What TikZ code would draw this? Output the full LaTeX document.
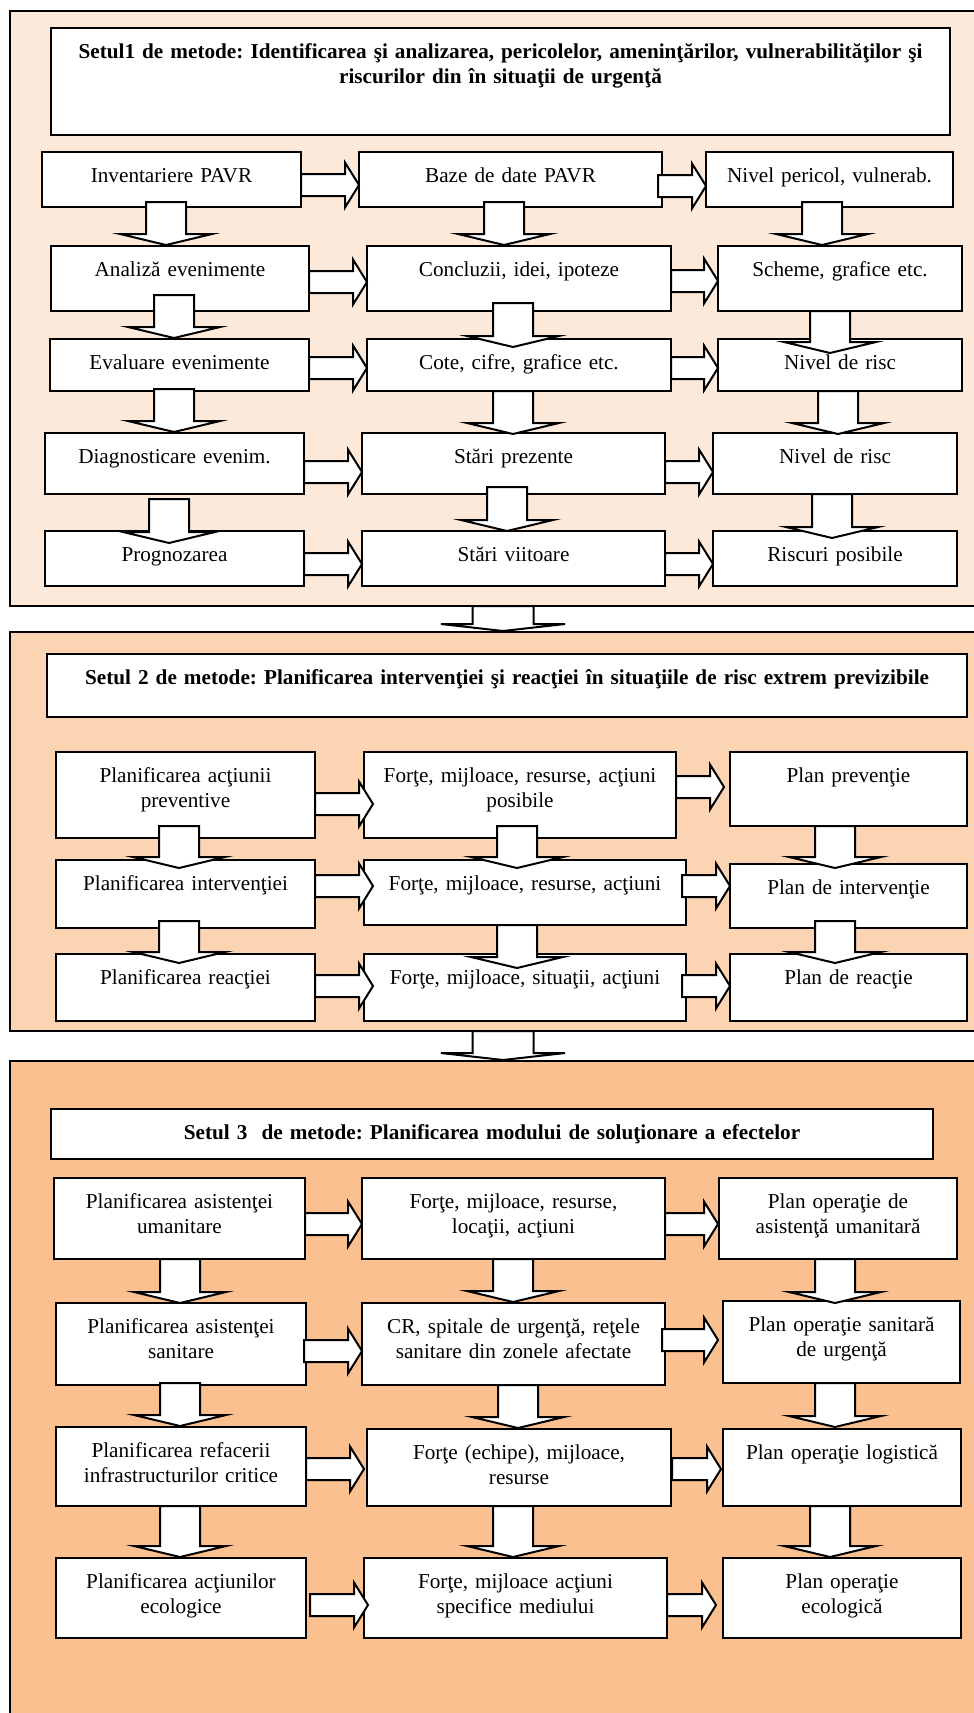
\documentclass[tikz,border=0pt]{standalone}
\usepackage{fontspec}
\setmainfont{Liberation Serif}
\usetikzlibrary{calc}
\frenchspacing
\definecolor{frA}{HTML}{FDE9D9}
\definecolor{frB}{HTML}{FBD4B4}
\definecolor{frC}{HTML}{FAC090}
\tikzset{
  boxst/.style={draw, fill=white, line width=1pt, inner sep=0pt, outer sep=0pt,
    anchor=north west, align=center, text height=15.25pt,
    font=\fontsize{10.6}{12.5}\selectfont\frenchspacing},
  frm/.style={draw, line width=1pt, inner sep=0pt, outer sep=0pt, anchor=north west},
  blk/.style={draw, fill=white, line width=1pt, line join=miter},
  harrow/.style={to path={let \p1=(\tikztostart), \p2=(\tikztotarget) in
      (\x1,\y1+5.5pt) -- (\x2-7pt,\y1+5.5pt) -- (\x2-7pt,\y1+11.25pt) -- (\x2,\y1)
      -- (\x2-7pt,\y1-11.25pt) -- (\x2-7pt,\y1-5.5pt) -- (\x1,\y1-5.5pt) -- cycle}},
  varrow/.style={to path={let \p1=(\tikztostart), \p2=(\tikztotarget) in
      (\x1-10pt,\y1) -- (\x1-10pt,\y2+5.5pt) -- (\x1-23pt,\y2+5.5pt) -- (\x1,\y2)
      -- (\x1+23pt,\y2+5.5pt) -- (\x1+10pt,\y2+5.5pt) -- (\x1+10pt,\y1) -- cycle}},
  farrow/.style={to path={let \p1=(\tikztostart), \p2=(\tikztotarget) in
      (\x1-15.25pt,\y1) -- (\x1-15.25pt,\y2+3.5pt) -- (\x1-31pt,\y2+3.5pt) -- (\x1,\y2)
      -- (\x1+31pt,\y2+3.5pt) -- (\x1+15.25pt,\y2+3.5pt) -- (\x1+15.25pt,\y1) -- cycle}}
}
\newcommand{\mkbox}[6]{%
  \pgfmathsetmacro{\mybw}{(#4-#2)*0.5}%
  \pgfmathsetmacro{\mybd}{(#5-#3)*0.5-15.25}%
  \node[boxst, text width=\mybw pt, text depth=\mybd pt] (#1) at (#2,#3) {#6};}
\newcommand{\hblk}[5]{\draw[blk] ($(#1.east |- 0,#3)+(#4,0)$) to[harrow] ($(#2.west |- 0,#3)+(#5,0)$);}
\newcommand{\vblk}[5]{\draw[blk] ($(#1.south -| #3,0)+(0,#4)$) to[varrow] ($(#2.north -| #3,0)+(0,#5)$);}
\begin{document}
\begin{tikzpicture}[x=0.5pt, y=-0.5pt]
\useasboundingbox (0,0) rectangle (974,1713);
\fill[white] (0,0) rectangle (974,1713);
\clip (0,0) rectangle (974,1713);
% frames
\node[frm, fill=frA, minimum width=495pt, minimum height=297.5pt] (f1) at (10,11) {};
\node[frm, fill=frB, minimum width=495pt, minimum height=199.5pt] (f2) at (10,632) {};
\node[frm, fill=frC, minimum width=495pt, minimum height=360pt] (f3) at (10,1061) {};
% set 1
\mkbox{t1}{51}{28}{950}{135}{\bfseries Setul1 de metode: Identificarea şi analizarea, pericolelor, ameninţărilor, vulnerabilităţilor şi\\ riscurilor din în situaţii de urgenţă}
\mkbox{b11}{42}{152}{301}{207}{Inventariere PAVR}
\mkbox{b12}{359}{152}{662}{207}{Baze de date PAVR}
\mkbox{b13}{706}{152}{953}{207}{Nivel pericol, vulnerab.}
\mkbox{b21}{51}{246}{309}{311}{Analiză evenimente}
\mkbox{b22}{367}{246}{671}{311}{Concluzii, idei, ipoteze}
\mkbox{b23}{718}{246}{962}{311}{Scheme, grafice etc.}
\mkbox{b31}{50}{339}{309}{391}{Evaluare evenimente}
\mkbox{b32}{367}{339}{671}{391}{Cote, cifre, grafice etc.}
\mkbox{b33}{718}{339}{962}{391}{Nivel de risc}
\mkbox{b41}{45}{433}{304}{494}{Diagnosticare evenim.}
\mkbox{b42}{362}{433}{665}{494}{Stări prezente}
\mkbox{b43}{713}{433}{957}{494}{Nivel de risc}
\mkbox{b51}{45}{531}{304}{586}{Prognozarea}
\mkbox{b52}{362}{531}{665}{586}{Stări viitoare}
\mkbox{b53}{713}{531}{957}{586}{Riscuri posibile}
% set 2
\mkbox{t2}{47}{654}{967}{717}{\bfseries Setul 2 de metode: Planificarea intervenţiei şi reacţiei în situaţiile de risc extrem previzibile}
\mkbox{c11}{56}{752}{315}{838}{Planificarea acţiunii\\preventive}
\mkbox{c12}{364}{752}{676}{838}{Forţe, mijloace, resurse, acţiuni\\posibile}
\mkbox{c13}{730}{752}{967}{826}{Plan prevenţie}
\mkbox{c21}{56}{860}{315}{928}{Planificarea intervenţiei}
\mkbox{c22}{364}{860}{686}{925}{Forţe, mijloace, resurse, acţiuni}
\mkbox{c23}{730}{864}{967}{928}{Plan de intervenţie}
\mkbox{c31}{56}{954}{315}{1021}{Planificarea reacţiei}
\mkbox{c32}{364}{954}{686}{1021}{Forţe, mijloace, situaţii, acţiuni}
\mkbox{c33}{730}{954}{967}{1021}{Plan de reacţie}
% set 3
\mkbox{t3}{51}{1109}{933}{1159}{\bfseries Setul 3\ \ de metode: Planificarea modului de soluţionare a efectelor}
\mkbox{d11}{54}{1178}{305}{1259}{Planificarea asistenţei\\umanitare}
\mkbox{d12}{362}{1178}{665}{1259}{Forţe, mijloace, resurse,\\locaţii, acţiuni}
\mkbox{d13}{719}{1178}{957}{1259}{Plan operaţie de\\asistenţă umanitară}
\mkbox{d21}{56}{1303}{306}{1385}{Planificarea asistenţei\\sanitare}
\mkbox{d22}{362}{1303}{665}{1385}{CR, spitale de urgenţă, reţele\\sanitare din zonele afectate}
\mkbox{d23}{723}{1301}{960}{1383}{Plan operaţie sanitară\\de urgenţă}
\mkbox{d31}{56}{1427}{306}{1506}{Planificarea refacerii\\infrastructurilor critice}
\mkbox{d32}{367}{1429}{671}{1506}{Forţe (echipe), mijloace,\\resurse}
\mkbox{d33}{723}{1429}{961}{1506}{Plan operaţie logistică}
\mkbox{d41}{56}{1558}{306}{1638}{Planificarea acţiunilor\\ecologice}
\mkbox{d42}{364}{1558}{667}{1638}{Forţe, mijloace acţiuni\\specifice mediului}
\mkbox{d43}{723}{1558}{961}{1638}{Plan operaţie\\ecologică}
% arrows between frames
\draw[blk] (f1.south -| 503,0) to[farrow] ($(f2.north -| 503,0)+(0,-1)$);
\draw[blk] (f2.south -| 503,0) to[farrow] ($(f3.north -| 503,0)+(0,-1)$);
% set 1 arrows
\hblk{b11}{b12}{185}{0}{0}
\hblk{b12}{b13}{186}{-4}{0}
\hblk{b21}{b22}{282}{0}{0}
\hblk{b22}{b23}{281}{0}{0}
\hblk{b31}{b32}{368}{0}{0}
\hblk{b32}{b33}{368}{0}{0}
\hblk{b41}{b42}{472}{0}{0}
\hblk{b42}{b43}{472}{0}{0}
\hblk{b51}{b52}{564}{0}{0}
\hblk{b52}{b53}{564}{0}{0}
\vblk{b11}{b21}{166}{-5}{-1}
\vblk{b12}{b22}{504}{-5}{-1}
\vblk{b13}{b23}{822}{-5}{-1}
\vblk{b21}{b31}{174}{-16}{-1}
\vblk{b22}{b32}{513}{-8}{8}
\vblk{b23}{b33}{830}{0}{14}
\vblk{b31}{b41}{174}{-2}{-1}
\vblk{b32}{b42}{513}{0}{1}
\vblk{b33}{b43}{838}{0}{1}
\vblk{b41}{b51}{169}{5}{12}
\vblk{b42}{b52}{507}{-7}{0}
\vblk{b43}{b53}{832}{0}{7}
% set 2 arrows
\hblk{c11}{c12}{804}{0}{9}
\hblk{c12}{c13}{787}{0}{-6}
\hblk{c21}{c22}{886}{0}{9}
\hblk{c22}{c23}{886}{-4}{0}
\hblk{c31}{c32}{986}{0}{9}
\hblk{c32}{c33}{986}{-4}{0}
\vblk{c11}{c21}{179}{-12}{8}
\vblk{c12}{c22}{517}{-12}{8}
\vblk{c13}{c23}{835}{0}{4}
\vblk{c21}{c31}{179}{-7}{9}
\vblk{c22}{c32}{517}{0}{14}
\vblk{c23}{c33}{835}{-7}{9}
% set 3 arrows
\hblk{d11}{d12}{1224}{0}{0}
\hblk{d12}{d13}{1224}{0}{-1}
\hblk{d21}{d22}{1351}{-2}{0}
\hblk{d22}{d23}{1340}{-3}{-5}
\hblk{d31}{d32}{1469}{0}{-3}
\hblk{d32}{d33}{1469}{1}{-2}
\hblk{d41}{d42}{1605}{4}{4}
\hblk{d42}{d43}{1605}{0}{-7}
\vblk{d11}{d21}{180}{0}{0}
\vblk{d12}{d22}{513}{0}{-1}
\vblk{d13}{d23}{835}{0}{2}
\vblk{d21}{d31}{180}{-2}{-1}
\vblk{d22}{d32}{518}{0}{-1}
\vblk{d23}{d33}{835}{0}{-2}
\vblk{d31}{d41}{180}{0}{-1}
\vblk{d32}{d42}{513}{0}{-1}
\vblk{d33}{d43}{830}{0}{-1}
\end{tikzpicture}
\end{document}
